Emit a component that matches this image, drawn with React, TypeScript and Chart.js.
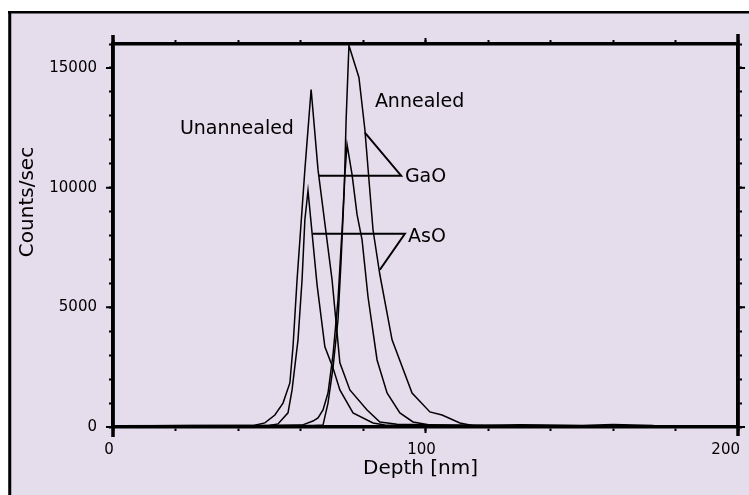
import React, { useEffect, useRef } from "react";
import { Chart, registerables } from "chart.js";

Chart.register(...registerables);

// ---- data (depth in nm, counts/sec) ----
const UNANNEALED_GAO_DEPTH = [0, 25, 45, 48.6, 51.8, 54.4, 56.6, 57.6, 58.9, 61.4, 63.4, 65.6, 70.1, 72.6, 75.8, 81.3, 85.4, 90.9, 110, 140, 175];
const UNANNEALED_GAO_COUNTS = [40, 60, 60, 170, 500, 1000, 1840, 3350, 6150, 10750, 14100, 10750, 6150, 2680, 1550, 710, 210, 120, 70, 50, 40];

const UNANNEALED_ASO_DEPTH = [0, 30, 50, 52.8, 56, 57.3, 59.2, 60.5, 61.4, 62.4, 65.3, 67.8, 70.4, 72.6, 76.8, 83.2, 87, 120, 175];
const UNANNEALED_ASO_COUNTS = [30, 50, 60, 130, 590, 1550, 3640, 6150, 8660, 9870, 5940, 3350, 2470, 1550, 590, 170, 80, 50, 40];

const ANNEALED_GAO_DEPTH = [0, 40, 64, 67.2, 68.8, 70.4, 72, 73, 74, 74.6, 75.5, 78.7, 80.6, 83.2, 85.4, 89.3, 95.7, 101.4, 105.3, 111, 115.8, 130, 150, 160, 173];
const ANNEALED_GAO_COUNTS = [50, 60, 60, 80, 1000, 2470, 4480, 6990, 9920, 12840, 15940, 14600, 12430, 8240, 6360, 3640, 1420, 630, 500, 170, 40, 90, 60, 100, 60];

const ANNEALED_ASO_DEPTH = [0, 45, 60.5, 64, 65.6, 67.2, 68.8, 70.4, 72, 73.3, 74.2, 74.9, 76.5, 78.1, 79.7, 81.6, 84.5, 87.7, 91.8, 96, 101.4, 130, 175];
const ANNEALED_ASO_COUNTS = [40, 50, 80, 250, 380, 710, 1420, 3010, 5310, 8240, 10540, 11800, 10540, 8870, 7820, 5440, 2800, 1420, 590, 210, 80, 60, 40];

const X_TICK_LABELS = [0, 100, 200];
const Y_TICK_LABELS = [0, 5000, 10000, 15000];

const X_TITLE = "Depth [nm]";
const Y_TITLE = "Counts/sec";

// annotation text (data coordinates of the text's left baseline)
const NOTE_TEXTS = ["Unannealed", "Annealed", "GaO", "AsO"];
const NOTE_X = [21.4, 83.8, 93.4, 94.4];
const NOTE_Y = [12260, 13350, 10250, 7740];

// leader lines (data coordinates)
const GAO_LEADER_X = [65.9, 92.2, 80.6];
const GAO_LEADER_Y = [10500, 10500, 12300];
const ASO_LEADER_X = [64, 93.4, 85.4];
const ASO_LEADER_Y = [8075, 8075, 6570];

const FONT = "'DejaVu Sans', 'Verdana', sans-serif";
const BG = "#E5DCEC";
const INK = "#000000";

const toPoints = (xs: number[], ys: number[]) => xs.map((x, i) => ({ x, y: ys[i] }));

const decorPlugin = {
  id: "decor",
  beforeDraw(chart: any) {
    const { ctx, width, height } = chart;
    ctx.save();
    ctx.fillStyle = "#ffffff";
    ctx.fillRect(0, 0, width, height);
    ctx.fillStyle = BG;
    ctx.fillRect(8, 12, width - 8, height - 12);
    ctx.strokeStyle = INK;
    ctx.lineWidth = 2.5;
    ctx.beginPath();
    ctx.moveTo(8, 12.25);
    ctx.lineTo(width, 12.25);
    ctx.stroke();
    ctx.lineWidth = 3;
    ctx.beginPath();
    ctx.moveTo(9.75, 11);
    ctx.lineTo(9.75, height);
    ctx.stroke();
    ctx.restore();
  },
  afterDraw(chart: any) {
    const { ctx, chartArea } = chart;
    const xs = chart.scales.x;
    const ys = chart.scales.y;
    const { left, right, top, bottom } = chartArea;
    ctx.save();
    ctx.strokeStyle = INK;
    ctx.fillStyle = INK;

    // leader lines
    ctx.lineWidth = 2;
    const leader = (lx: number[], ly: number[]) => {
      ctx.beginPath();
      lx.forEach((v, i) => {
        const px = xs.getPixelForValue(v);
        const py = ys.getPixelForValue(ly[i]);
        if (i === 0) ctx.moveTo(px, py);
        else ctx.lineTo(px, py);
      });
      ctx.stroke();
    };
    leader(GAO_LEADER_X, GAO_LEADER_Y);
    leader(ASO_LEADER_X, ASO_LEADER_Y);

    // annotation texts
    ctx.font = `19px ${FONT}`;
    ctx.textAlign = "left";
    ctx.textBaseline = "alphabetic";
    NOTE_TEXTS.forEach((t, i) => {
      ctx.fillText(t, xs.getPixelForValue(NOTE_X[i]), ys.getPixelForValue(NOTE_Y[i]));
    });

    // axis line extensions at corners
    ctx.lineWidth = 3.5;
    ctx.beginPath();
    ctx.moveTo(left, top - 9);
    ctx.lineTo(left, bottom + 10);
    ctx.moveTo(right, top - 10);
    ctx.lineTo(right, bottom + 9);
    ctx.stroke();

    // longer major ticks
    ctx.lineWidth = 2;
    ctx.beginPath();
    Y_TICK_LABELS.forEach((v) => {
      const py = ys.getPixelForValue(v);
      ctx.moveTo(left - 7, py);
      ctx.lineTo(left, py);
      ctx.moveTo(right, py);
      ctx.lineTo(right + 7, py);
    });
    X_TICK_LABELS.forEach((v) => {
      const px = xs.getPixelForValue(v);
      ctx.moveTo(px, bottom);
      ctx.lineTo(px, bottom + 6);
      ctx.moveTo(px, top - 6);
      ctx.lineTo(px, top);
    });
    ctx.stroke();

    // x tick labels (kept inside the frame at the right end)
    ctx.font = `15px ${FONT}`;
    ctx.textAlign = "center";
    ctx.textBaseline = "alphabetic";
    X_TICK_LABELS.forEach((v) => {
      const label = String(v);
      const w = ctx.measureText(label).width;
      let cx = xs.getPixelForValue(v) - 4;
      if (cx + w / 2 > right + 2) cx = right + 2 - w / 2;
      ctx.fillText(label, cx, bottom + 27);
    });

    // axis titles
    ctx.font = `20px ${FONT}`;
    ctx.textAlign = "center";
    ctx.fillText(X_TITLE, (left + right) / 2 - 5, bottom + 47);
    ctx.save();
    ctx.translate(33, top + 158);
    ctx.rotate(-Math.PI / 2);
    ctx.fillText(Y_TITLE, 0, 0);
    ctx.restore();

    ctx.restore();
  },
};

const gridOpts = {
  drawOnChartArea: false,
  drawTicks: true,
  tickLength: 4,
  tickWidth: 2,
  tickColor: INK,
};
const borderOpts = { display: true, color: INK, width: 3.5 };

export default function App() {
  const ref = useRef<HTMLCanvasElement | null>(null);

  useEffect(() => {
    if (!ref.current) return;
    const line = (data: { x: number; y: number }[]) => ({
      data,
      showLine: true,
      borderColor: INK,
      borderWidth: 1.5,
      pointRadius: 0,
      fill: false,
      tension: 0,
      xAxisID: "x",
      yAxisID: "y",
    });
    const chart = new Chart(ref.current, {
      type: "scatter",
      data: {
        datasets: [
          line(toPoints(UNANNEALED_GAO_DEPTH, UNANNEALED_GAO_COUNTS)),
          line(toPoints(UNANNEALED_ASO_DEPTH, UNANNEALED_ASO_COUNTS)),
          line(toPoints(ANNEALED_GAO_DEPTH, ANNEALED_GAO_COUNTS)),
          line(toPoints(ANNEALED_ASO_DEPTH, ANNEALED_ASO_COUNTS)),
        ],
      },
      options: {
        animation: false,
        responsive: false,
        devicePixelRatio: 1,
        layout: { padding: { top: 44, right: 11, left: 0, bottom: 0 } },
        plugins: { legend: { display: false }, tooltip: { enabled: false } },
        scales: {
          x: {
            type: "linear",
            position: "bottom",
            min: 0,
            max: 200,
            ticks: {
              stepSize: 20,
              autoSkip: false,
              maxRotation: 0,
              padding: 8,
              color: INK,
              font: { family: FONT, size: 15 },
              callback: () => "",
            },
            grid: gridOpts,
            border: borderOpts,
            afterFit: (s: any) => {
              s.height = 68;
              s.paddingLeft = 0;
              s.paddingRight = 0;
            },
          },
          x2: {
            type: "linear",
            position: "top",
            min: 0,
            max: 200,
            ticks: { stepSize: 20, display: false },
            grid: gridOpts,
            border: borderOpts,
            afterFit: (s: any) => {
              s.height = 0;
              s.paddingLeft = 0;
              s.paddingRight = 0;
            },
          },
          y: {
            type: "linear",
            position: "left",
            min: 0,
            max: 16000,
            ticks: {
              stepSize: 1000,
              autoSkip: false,
              padding: 12,
              color: INK,
              font: { family: FONT, size: 15 },
              callback: (v: any) => (Y_TICK_LABELS.includes(Number(v)) ? String(v) : ""),
            },
            grid: gridOpts,
            border: borderOpts,
            afterFit: (s: any) => {
              s.width = 113;
              s.paddingTop = 0;
              s.paddingBottom = 0;
            },
          },
          y2: {
            type: "linear",
            position: "right",
            min: 0,
            max: 16000,
            ticks: { stepSize: 1000, display: false },
            grid: gridOpts,
            border: borderOpts,
            afterFit: (s: any) => {
              s.width = 0;
              s.paddingTop = 0;
              s.paddingBottom = 0;
            },
          },
        },
      },
      plugins: [decorPlugin],
    } as any);
    return () => chart.destroy();
  }, []);

  return (
    <canvas
      ref={ref}
      width={749}
      height={495}
      style={{ position: "fixed", left: 0, top: 0, width: 749, height: 495, display: "block" }}
    />
  );
}
